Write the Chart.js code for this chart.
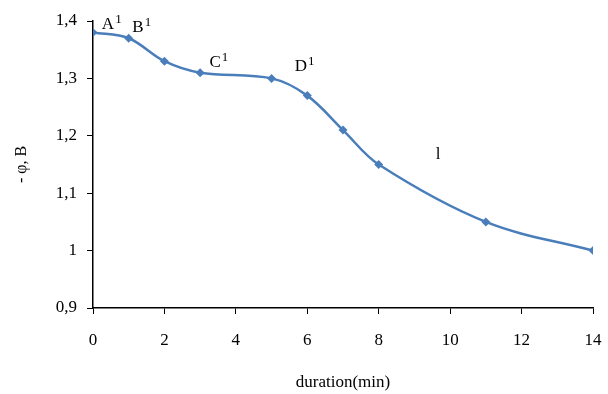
<!DOCTYPE html>
<html><head><meta charset="utf-8">
<script src="https://cdn.jsdelivr.net/npm/chart.js@4/dist/chart.umd.min.js"></script>
<style>html,body{margin:0;padding:0;background:#fff}#w{width:608px;height:394px}</style>
</head><body><div id="w"><canvas id="c"></canvas></div>
<script>
const durations = [0, 1, 2, 3, 5, 6, 7, 8, 11, 14];
const potentials = [1.38, 1.37, 1.33, 1.31, 1.30, 1.27, 1.21, 1.15, 1.05, 1.00];
const xTicks = [0, 2, 4, 6, 8, 10, 12, 14];
const yTicks = [0.9, 1.0, 1.1, 1.2, 1.3, 1.4];
const annText = ['A', 'B', 'C', 'D', 'l'];
const annSup = ['1', '1', '1', '1', ''];
const annX = [0.42, 1.26, 3.42, 5.82, 9.66];
const annY = [1.393, 1.388, 1.327, 1.321, 1.168];

const FONT = '"Liberation Serif", "Times New Roman", serif';

const annPlugin = {
  id: 'ann',
  afterDatasetsDraw(chart) {
    const {ctx, scales} = chart;
    ctx.save();
    ctx.fillStyle = '#000';
    ctx.textBaseline = 'middle';
    annText.forEach((t, i) => {
      const px = scales.x.getPixelForValue(annX[i]);
      const py = scales.y.getPixelForValue(annY[i]);
      ctx.font = '17px ' + FONT;
      const w = ctx.measureText(t).width;
      ctx.textAlign = 'left';
      ctx.fillText(t, px - w / 2, py);
      if (annSup[i]) {
        ctx.font = '13px ' + FONT;
        ctx.fillText(annSup[i], px + w / 2 + 1, py - 5);
      }
    });
    ctx.restore();
  }
};

new Chart(document.getElementById('c'), {
  type: 'line',
  data: {
    datasets: [{
      data: durations.map((d, i) => ({x: d, y: potentials[i]})),
      borderColor: '#4a7ebb',
      backgroundColor: '#4a7ebb',
      borderWidth: 2.5,
      pointStyle: 'rectRot',
      pointRadius: 4.5,
      pointBorderWidth: 0,
      tension: 0.35,
      fill: false
    }]
  },
  options: {
    responsive: true,
    maintainAspectRatio: false,
    animation: false,
    layout: {padding: {left: 12, right: 15, top: 21, bottom: 0}},
    plugins: {legend: {display: false}, tooltip: {enabled: false}},
    scales: {
      x: {
        type: 'linear', min: 0, max: 14,
        afterBuildTicks: ax => { ax.ticks = xTicks.map(v => ({value: v})); },
        afterFit: ax => { ax.height = 86; ax.paddingLeft = 0; ax.paddingRight = 0; },
        grid: {display: true, drawOnChartArea: false, drawTicks: true, tickLength: 6, color: '#000', lineWidth: 1},
        border: {display: true, color: '#000', width: 1.5},
        ticks: {color: '#000', font: {family: FONT, size: 17}, padding: 16, maxRotation: 0},
        title: {display: true, text: 'duration(min)', color: '#000', font: {family: FONT, size: 17}, padding: {top: 4, bottom: 1}}
      },
      y: {
        min: 0.9, max: 1.4,
        afterBuildTicks: ax => { ax.ticks = yTicks.map(v => ({value: v})); },
        afterFit: ax => { ax.width = 81; ax.paddingTop = 0; ax.paddingBottom = 0; },
        grid: {display: true, drawOnChartArea: false, drawTicks: true, tickLength: 6, color: '#000', lineWidth: 1},
        border: {display: true, color: '#000', width: 1.5},
        ticks: {color: '#000', font: {family: FONT, size: 17}, padding: 10,
          callback: v => (Math.round(v * 10) / 10).toString().replace('.', ',')},
        title: {display: true, text: '- φ, B', color: '#000', font: {family: FONT, size: 16}, padding: {top: 0, bottom: 4}}
      }
    }
  },
  plugins: [annPlugin]
});
</script></body></html>
